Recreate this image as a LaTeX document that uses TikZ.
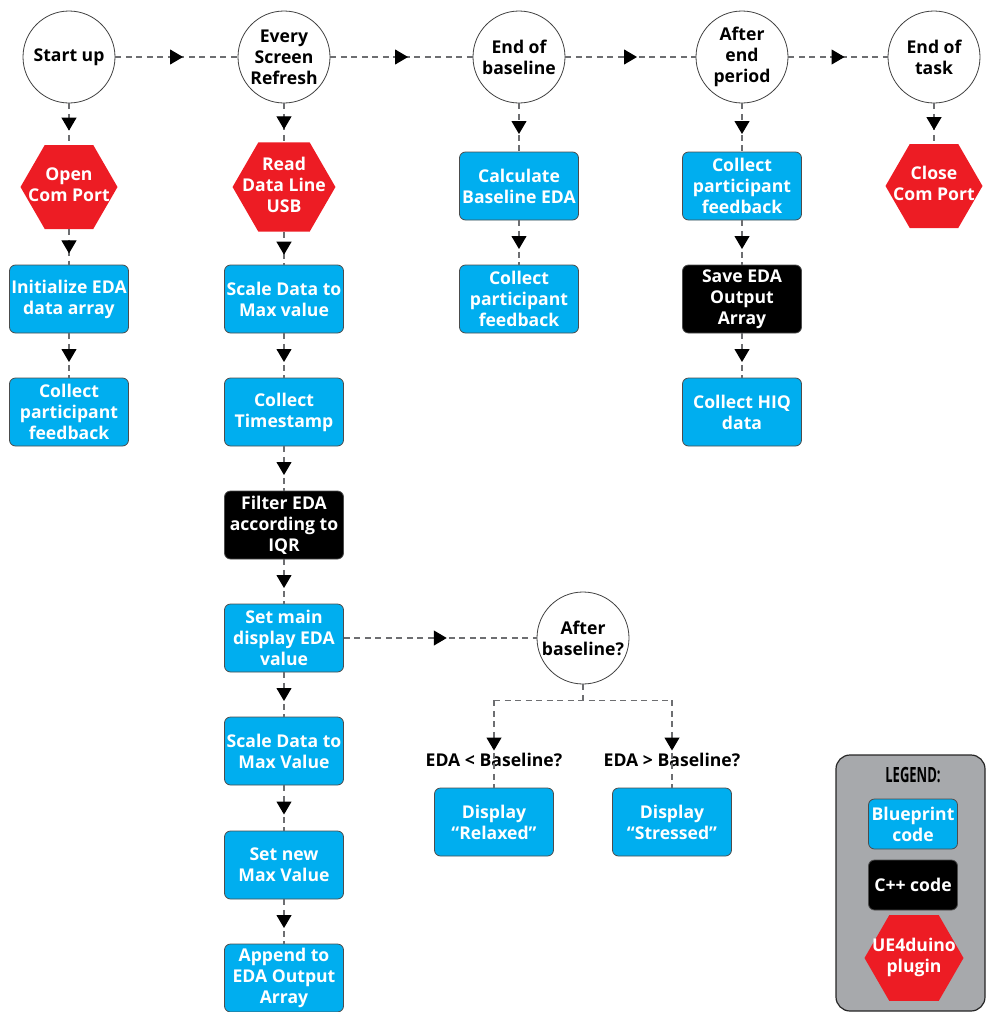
\documentclass[tikz,border=0pt]{standalone}
\usepackage{fontspec}
\setmainfont{Open Sans}
\usetikzlibrary{shapes.geometric,arrows.meta,decorations.markings}
\definecolor{bpblue}{HTML}{00AEEF}
\definecolor{plugred}{HTML}{ED1C24}
\definecolor{legendgray}{HTML}{A7A9AC}
\definecolor{linegray}{HTML}{6D6E71}
\newcommand{\hexlines}[1]{\makebox[0pt]{\begin{tabular}{@{}c@{}}#1\end{tabular}}}
\tikzset{
	event/.style={circle, draw=black!75, line width=0.8pt, fill=white, minimum size=92pt, inner sep=0pt},
	blueprint/.style={rectangle, rounded corners=6pt, draw=black!70, line width=0.8pt, fill=bpblue, text=white, minimum width=119pt, minimum height=68pt, inner sep=1pt},
	cppcode/.style={blueprint, fill=black},
	plugin/.style={regular polygon, regular polygon sides=6, fill=plugred, text=white, minimum size=97pt, inner sep=0pt},
	link/.style={draw=linegray, line width=1.1pt, dash pattern=on 6pt off 4.5pt},
	flow/.style={link, postaction={decorate}, decoration={markings, mark=at position 0.5 with {\pgftransformxshift{6.5pt}\arrow{Triangle[length=13pt,width=15pt,color=black]}}}}
}
\begin{document}
\begin{tikzpicture}[x=1pt, y=-1pt, every node/.style={font=\fontsize{17.6}{21}\selectfont\bfseries, align=center}]
	\useasboundingbox (0,0) rectangle (986,1012);
	% trigger events
	\node[event] (startup) at (69,57) {Start up};
	\node[event] (refresh) at (284,57) {Every\\Screen\\Refresh};
	\node[event] (endbase) at (519,57) {End of\\baseline};
	\node[event] (afterend) at (742,57) {After\\end\\period};
	\node[event] (endtask) at (934,57) {End of\\task};
	% first column
	\node[plugin] (openport) at (69,187) {\hexlines{Open\\Com Port}};
	\node[blueprint] (initeda) at (69,299) {Initialize EDA\\data array};
	\node[blueprint] (collectA) at (69,412) {Collect\\participant\\feedback};
	% screen refresh column
	\node[plugin] (readusb) at (284,187) {\hexlines{Read\\Data Line\\USB}};
	\node[blueprint] (scaledata) at (284,299) {Scale Data to\\Max value};
	\node[blueprint] (stamp) at (284,412) {Collect\\Timestamp};
	\node[cppcode] (filter) at (284,525) {Filter EDA\\according to\\IQR};
	\node[blueprint] (setmain) at (284,638) {Set main\\display EDA\\value};
	\node[blueprint] (scalemax) at (284,751) {Scale Data to\\Max Value};
	\node[blueprint] (setmax) at (284,865) {Set new\\Max Value};
	\node[blueprint] (append) at (284,978) {Append to\\EDA Output\\Array};
	% baseline column
	\node[blueprint] (calcbase) at (519,186) {Calculate\\Baseline EDA};
	\node[blueprint] (collectB) at (519,299) {Collect\\participant\\feedback};
	% end period column
	\node[blueprint] (collectC) at (742,186) {Collect\\participant\\feedback};
	\node[cppcode] (saveout) at (742,299) {Save EDA\\Output\\Array};
	\node[blueprint] (hiq) at (742,412) {Collect HIQ\\data};
	% end of task
	\node[plugin] (closeport) at (934,186) {\hexlines{Close\\Com Port}};
	% display branch
	\node[event] (afterbase) at (583,638) {After\\baseline?};
	\node (lessbase) at (494,760) {EDA < Baseline?};
	\node (morebase) at (672,760) {EDA > Baseline?};
	\node[blueprint] (relaxed) at (494,822) {Display\\“Relaxed”};
	\node[blueprint] (stressed) at (672,822) {Display\\“Stressed”};
	\foreach \a/\b in {startup/refresh, refresh/endbase, endbase/afterend, afterend/endtask,
			startup/openport, openport/initeda, initeda/collectA,
			refresh/readusb, readusb/scaledata, scaledata/stamp, stamp/filter, filter/setmain,
			setmain/scalemax, scalemax/setmax, setmax/append, setmain/afterbase,
			endbase/calcbase, calcbase/collectB, afterend/collectC, collectC/saveout, saveout/hiq,
			endtask/closeport}
		\draw[flow] (\a) -- (\b);
	\draw[link] (afterbase.south) -- ++(0,16) coordinate (fork);
	\draw[link] (relaxed.north |- fork) -- (stressed.north |- fork);
	\foreach \b in {relaxed, stressed}
		\draw[flow] (\b.north |- fork) -- (\b.north);
	% legend
	\draw[rounded corners=14pt, fill=legendgray, draw=black!85, line width=1.2pt] (836,755) rectangle (985,1011);
	\node[font=\fontsize{21}{24}\selectfont\bfseries] (legend) at (913,775) {\scalebox{0.62}[1]{LEGEND:}};
	\node[blueprint, minimum width=89pt, minimum height=50pt] (keyblue) at (913,824) {Blueprint\\code};
	\node[cppcode, minimum width=89pt, minimum height=50pt] (keycpp) at (913,885) {C++ code};
	\node[plugin, minimum size=99pt] (keyplug) at (914,958) {\hexlines{UE4duino\\plugin}};
\end{tikzpicture}
\end{document}
